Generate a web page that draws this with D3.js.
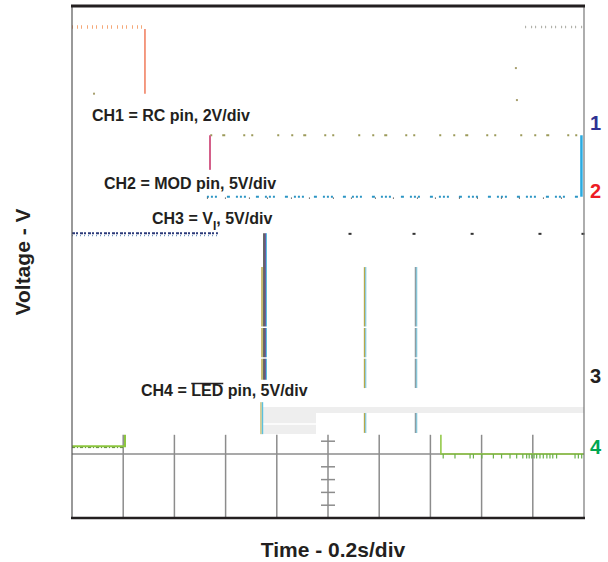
<html>
<head>
<meta charset="utf-8">
<style>
    body { margin: 0; background: #fff; }
    text { font-family: "Liberation Sans", Arial, sans-serif; font-weight: bold; fill: #231f20; }
    .trace { fill: none; }
    .grid { stroke: #8c8c8c; stroke-width: 1.5; fill: none; }
</style>
</head>
<body>
<script src="https://cdn.jsdelivr.net/npm/d3@7"></script>
<script>
var width = 608, height = 562;

// time in seconds (0.2 s/div), level in screen divisions from the bottom edge
var ch1High = [[0, 7.67], [0.285, 7.67]];
var ch1Fall = [[0.285, 7.64], [0.285, 6.63]];
var ch1Low = [[0.54, 5.98], [2.0, 5.98]];
var ch1Back = [[1.77, 7.67], [2.0, 7.67]];
var ch1Dots = [[0.086, 6.63], [1.734, 7.03], [1.738, 6.53]];

var ch2Edge = [[0.539, 5.98], [0.539, 5.44]];
var ch2Low = [[0.527, 5.02], [1.99, 5.02]];
var ch2Rise = [[1.99, 5.98], [1.99, 5.02]];

var ch3High = [[0, 4.45], [0.57, 4.45]];
var ch3Fall = [[0.752, 4.45], [0.752, 2.16]];
var ch3FallLow = [[0.742, 1.81], [0.742, 1.31]];
var ch3Pulses = [1.145, 1.344];
var ch3PulseTop = 3.92, ch3PulseBottom = 2.03;
var ch3PulseLow = [1.64, 1.33];
var ch3Dots = [1.086, 1.336, 1.563, 1.828, 1.996];

var ch4Left = [[0, 1.12], [0.207, 1.12], [0.207, 1.3]];
var ch4Right = [[1.441, 1.3], [1.441, 1.0], [2.0, 1.0]];
var ch4Spikes = [1.450, 1.496, 1.555, 1.568, 1.601, 1.646, 1.678, 1.711, 1.737, 1.761,
    1.776, 1.786, 1.796, 1.805, 1.815, 1.828, 1.841, 1.855, 1.867, 1.878, 1.893,
    1.965, 1.978, 1.991];

// scan leftovers: [t0, t1, v0, v1]
var shades = [[0.742, 2.0, 1.64, 1.734], [0.742, 0.953, 1.3125, 1.734]];
var breaks = [2.98, 2.5];

var gridTimes = [0.2, 0.4, 0.6, 0.8, 1.0, 1.2, 1.4, 1.6, 1.8];
var minorTicks = [0.2, 0.4, 0.6, 0.8, 1.2];

var labels = [
    {text: "CH1 = RC pin, 2V/div", x: 92, y: 121},
    {text: "CH2 = MOD pin, 5V/div", x: 104, y: 189}
];
var markers = [
    {text: "1", v: 6.06, color: "#2e3192"},
    {text: "2", v: 5.0, color: "#ed1c24"},
    {text: "3", v: 2.11, color: "#231f20"},
    {text: "4", v: 1.0, color: "#00a651"}
];

var x = d3.scaleLinear().domain([0, 2]).range([72, 584]);
var y = d3.scaleLinear().domain([0, 8]).range([518, 6]);

var line = d3.line()
    .x(function(d) { return x(d[0]); })
    .y(function(d) { return y(d[1]); });

var svg = d3.select("body").append("svg")
    .attr("width", width)
    .attr("height", height);

// grey remnants
svg.selectAll("rect.shade")
    .data(shades)
    .enter().append("rect")
    .attr("class", "shade")
    .attr("x", function(d) { return x(d[0]); })
    .attr("width", function(d) { return x(d[1]) - x(d[0]); })
    .attr("y", function(d) { return y(d[3]); })
    .attr("height", function(d) { return y(d[2]) - y(d[3]); })
    .attr("fill", "#eeeeee");
svg.append("line")
    .attr("x1", x(0.742)).attr("x2", x(0.953))
    .attr("y1", y(1.47)).attr("y2", y(1.47))
    .attr("stroke", "#fff").attr("stroke-width", 1.5);

// grid, only the bottom part survives
var g = svg.append("g");
g.selectAll("line.v")
    .data(gridTimes)
    .enter().append("line")
    .attr("class", "grid")
    .attr("x1", function(d) { return x(d); })
    .attr("x2", function(d) { return x(d); })
    .attr("y1", y(1.3))
    .attr("y2", y(0));
g.append("line")
    .attr("class", "grid")
    .attr("x1", x(0)).attr("x2", x(2))
    .attr("y1", y(1)).attr("y2", y(1));
g.selectAll("line.tick")
    .data(minorTicks)
    .enter().append("line")
    .attr("class", "grid")
    .attr("x1", x(1) - 7).attr("x2", x(1) + 7)
    .attr("y1", function(d) { return y(d); })
    .attr("y2", function(d) { return y(d); });

function trace(data, color, w, dash, dx) {
    return svg.append("path")
        .datum(data)
        .attr("class", "trace")
        .attr("d", line)
        .attr("stroke", color)
        .attr("stroke-width", w)
        .attr("stroke-dasharray", dash || null)
        .attr("transform", dx ? "translate(" + dx + ",0)" : null);
}

// CH1
trace(ch1High, "#f5a878", 3.5, "1,4,1,3,1,5");
trace(ch1Fall, "#f07a5a", 1.5);
trace(ch1Low, "#9c9a5a", 2, "2,10,3,18,2,6,2,24,2,12");
trace(ch1Back, "#a8a8a0", 2.5, "1,5,1,3");
svg.selectAll("rect.c1")
    .data(ch1Dots)
    .enter().append("rect")
    .attr("class", "c1")
    .attr("x", function(d) { return x(d[0]) - 1; })
    .attr("y", function(d) { return y(d[1]) - 1; })
    .attr("width", 2).attr("height", 2)
    .attr("fill", "#a8a070");

// CH2
trace(ch2Edge, "#d4608a", 2);
trace(ch2Low, "#2b95c4", 2, "2,2,2,2,2,10,3,6");
trace(ch2Low, "#444", 1.2, "1,17,1,23", 0).attr("transform", "translate(0,1.5)");
trace(ch2Rise, "#29abe2", 2.5);

// CH3
trace(ch3High, "#2b3a7a", 2, "3,1,2,2");
trace(ch3High, "#4a7ab0", 1, "1,3").attr("transform", "translate(0,2.5)");
trace(ch3Fall, "#333", 1.5, null, -0.5);
trace(ch3Fall, "#6a5aa8", 1.2, null, 1);
trace(ch3Fall, "#5bc0de", 1, null, 2);
trace([[0.752, 3.92], [0.752, 2.16]], "#b5a84a", 1.5, null, -2.5);
trace(ch3FallLow, "#5bc0de", 1.5, null, 0.5);
trace(ch3FallLow, "#b5a84a", 1, null, -1);
ch3Pulses.forEach(function(t, i) {
    var pts = [[t, ch3PulseTop], [t, ch3PulseBottom]];
    var low = [[t, ch3PulseLow[0]], [t, ch3PulseLow[1]]];
    trace(pts, i === 0 ? "#b5a84a" : "#8a9aa0", 1.2, null, -0.7);
    trace(pts, "#7fc3d6", 1.2, null, 0.6);
    trace(low, i === 0 ? "#b5a84a" : "#8a9aa0", 1.2, null, -0.7);
    trace(low, "#7fc3d6", 1.2, null, 0.6);
});
svg.selectAll("rect.c3")
    .data(ch3Dots)
    .enter().append("rect")
    .attr("class", "c3")
    .attr("x", function(d) { return x(d) - 1.5; })
    .attr("y", y(4.44) - 1)
    .attr("width", 3).attr("height", 2)
    .attr("fill", "#333");
breaks.forEach(function(v) {
    svg.append("line")
        .attr("x1", x(0.7)).attr("x2", x(1.4))
        .attr("y1", y(v)).attr("y2", y(v))
        .attr("stroke", "#fff").attr("stroke-width", 1.5);
});

// CH4
trace(ch4Left, "#8dc63f", 2);
trace([[0, 1.1], [0.2, 1.1]], "#5f8f3a", 1, "3,2,1,2");
trace(ch4Right, "#8dc63f", 1.5);
svg.selectAll("line.spike")
    .data(ch4Spikes)
    .enter().append("line")
    .attr("x1", function(d) { return x(d); })
    .attr("x2", function(d) { return x(d); })
    .attr("y1", y(1.0))
    .attr("y2", y(0.93))
    .attr("stroke", "#6ab04a")
    .attr("stroke-width", 1.2);

// frame
svg.append("line").attr("x1", x(0)).attr("x2", x(0)).attr("y1", y(8)).attr("y2", y(0))
    .attr("stroke", "#555").attr("stroke-width", 1.2);
svg.append("line").attr("x1", x(2)).attr("x2", x(2)).attr("y1", y(8)).attr("y2", y(0))
    .attr("stroke", "#777").attr("stroke-width", 1.2);
svg.append("line").attr("x1", x(0) - 1).attr("x2", x(2) + 1).attr("y1", y(8)).attr("y2", y(8))
    .attr("stroke", "#231f20").attr("stroke-width", 2.8);
svg.append("line").attr("x1", x(0) - 1).attr("x2", x(2) + 1).attr("y1", y(0)).attr("y2", y(0))
    .attr("stroke", "#231f20").attr("stroke-width", 2.6);

// channel captions
svg.selectAll("text.cap")
    .data(labels)
    .enter().append("text")
    .attr("class", "cap")
    .attr("x", function(d) { return d.x; })
    .attr("y", function(d) { return d.y; })
    .style("font-size", "16px")
    .text(function(d) { return d.text; });

var ch3 = svg.append("text")
    .attr("x", 152).attr("y", 224)
    .style("font-size", "16px");
ch3.append("tspan").text("CH3 = V");
ch3.append("tspan").attr("dy", 6).style("font-size", "12px").text("I");
ch3.append("tspan").attr("dy", -6).text(", 5V/div");

var ch4 = svg.append("text")
    .attr("x", 141).attr("y", 396)
    .style("font-size", "16px")
    .text("CH4 = LED pin, 5V/div");
var n = ch4.node();
var ox = 141 + n.getSubStringLength(0, 6);
var ow = n.getSubStringLength(6, 3);
svg.append("line")
    .attr("x1", ox).attr("x2", ox + ow)
    .attr("y1", 383.5).attr("y2", 383.5)
    .attr("stroke", "#231f20").attr("stroke-width", 1.5);

// channel markers
svg.selectAll("text.mk")
    .data(markers)
    .enter().append("text")
    .attr("class", "mk")
    .attr("x", 590)
    .attr("y", function(d) { return y(d.v); })
    .style("font-size", "20px")
    .style("fill", function(d) { return d.color; })
    .text(function(d) { return d.text; });

// axis titles
svg.append("text")
    .attr("transform", "translate(30,262) rotate(-90)")
    .attr("text-anchor", "middle")
    .style("font-size", "21px")
    .text("Voltage - V");
svg.append("text")
    .attr("x", 333).attr("y", 557)
    .attr("text-anchor", "middle")
    .style("font-size", "21px")
    .text("Time - 0.2s/div");
</script>
</body>
</html>
